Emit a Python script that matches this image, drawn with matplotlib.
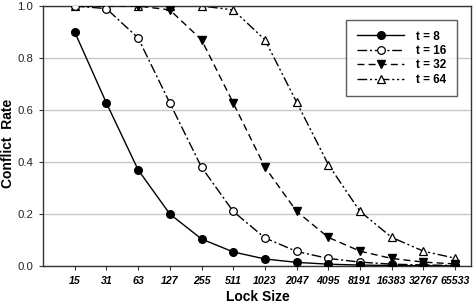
import matplotlib
matplotlib.use("Agg")
import matplotlib.pyplot as plt
import numpy as np

lock_sizes = ["15", "31", "63", "127", "255", "511", "1023", "2047", "4095", "8191", "16383", "32767", "65533"]
t8 = [0.90, 0.627, 0.37, 0.20, 0.104, 0.054, 0.027, 0.014, 0.007, 0.0035, 0.002, 0.001, 0.0005]
t16 = [1.0, 0.99, 0.877, 0.627, 0.38, 0.21, 0.108, 0.056, 0.029, 0.015, 0.007, 0.004, 0.002]
t32 = [1.0, 1.0, 1.0, 0.985, 0.87, 0.627, 0.38, 0.21, 0.11, 0.057, 0.029, 0.015, 0.008]
t64 = [1.0, 1.0, 1.0, 1.0, 1.0, 0.985, 0.87, 0.63, 0.39, 0.21, 0.11, 0.057, 0.03]
labels = ["t = 8", "t = 16", "t = 32", "t = 64"]

plt.rcParams['font.family'] = ['Liberation Sans', 'DejaVu Sans']

fig = plt.figure(figsize=(4.73, 3.05), dpi=100)
ax = fig.add_axes([43/473, 39/305, 428/473, 260/305])
x = np.arange(len(lock_sizes))

ms = 5.5
ax.plot(x, t8, color='black', lw=1.0, ls='-', marker='o', ms=ms, mfc='black', mec='black', label=labels[0], zorder=5)
ax.plot(x, t16, color='black', lw=1.0, ls=(0, (7, 2, 1.5, 2)), marker='o', ms=ms, mfc='white', mec='black', mew=0.9, label=labels[1], zorder=4)
ax.plot(x, t32, color='black', lw=1.0, ls=(0, (5, 3)), marker='v', ms=ms, mfc='black', mec='black', label=labels[2], zorder=3)
ax.plot(x, t64, color='black', lw=1.0, ls=(0, (7, 2, 1.5, 2, 1.5, 2)), marker='^', ms=ms, mfc='white', mec='black', mew=0.9, label=labels[3], zorder=2)

ax.set_xlim(-1, 12.5)
ax.set_ylim(0, 1.0)
ax.set_xticks(x)
ax.set_xticklabels(lock_sizes, fontsize=7.6, fontweight='bold', fontstyle='italic')
ax.set_yticks([0.0, 0.2, 0.4, 0.6, 0.8, 1.0])
ax.set_yticklabels(["0.0", "0.2", "0.4", "0.6", "0.8", "1.0"], fontsize=8.2, color='#222222')
ax.yaxis.grid(True, color='#c8c8c8', lw=1.0)
ax.set_axisbelow(True)
ax.tick_params(axis='both', direction='out', length=3, width=0.8, color='#333333', pad=4)
for s in ax.spines.values():
    s.set_color('#333333')
    s.set_linewidth(1.0)

fig.text(258/473, 1 - 297/305, "Lock Size", fontsize=10, fontweight='bold', ha='center', va='center')
fig.text(8/473, 1 - 143/305, "Conflict  Rate", fontsize=10, fontweight='bold', ha='center', va='center', rotation=90)

leg = ax.legend(loc='upper right', bbox_to_anchor=((457-43)/428, (305-20-39)/260),
                prop={'weight': 'bold', 'size': 8.5}, frameon=True, fancybox=False, edgecolor='#333333',
                handlelength=4.0, handletextpad=1.0, labelspacing=0.2, borderpad=0.9, borderaxespad=0)
leg.get_frame().set_linewidth(1.0)

fig.savefig("out.png", dpi=100)
